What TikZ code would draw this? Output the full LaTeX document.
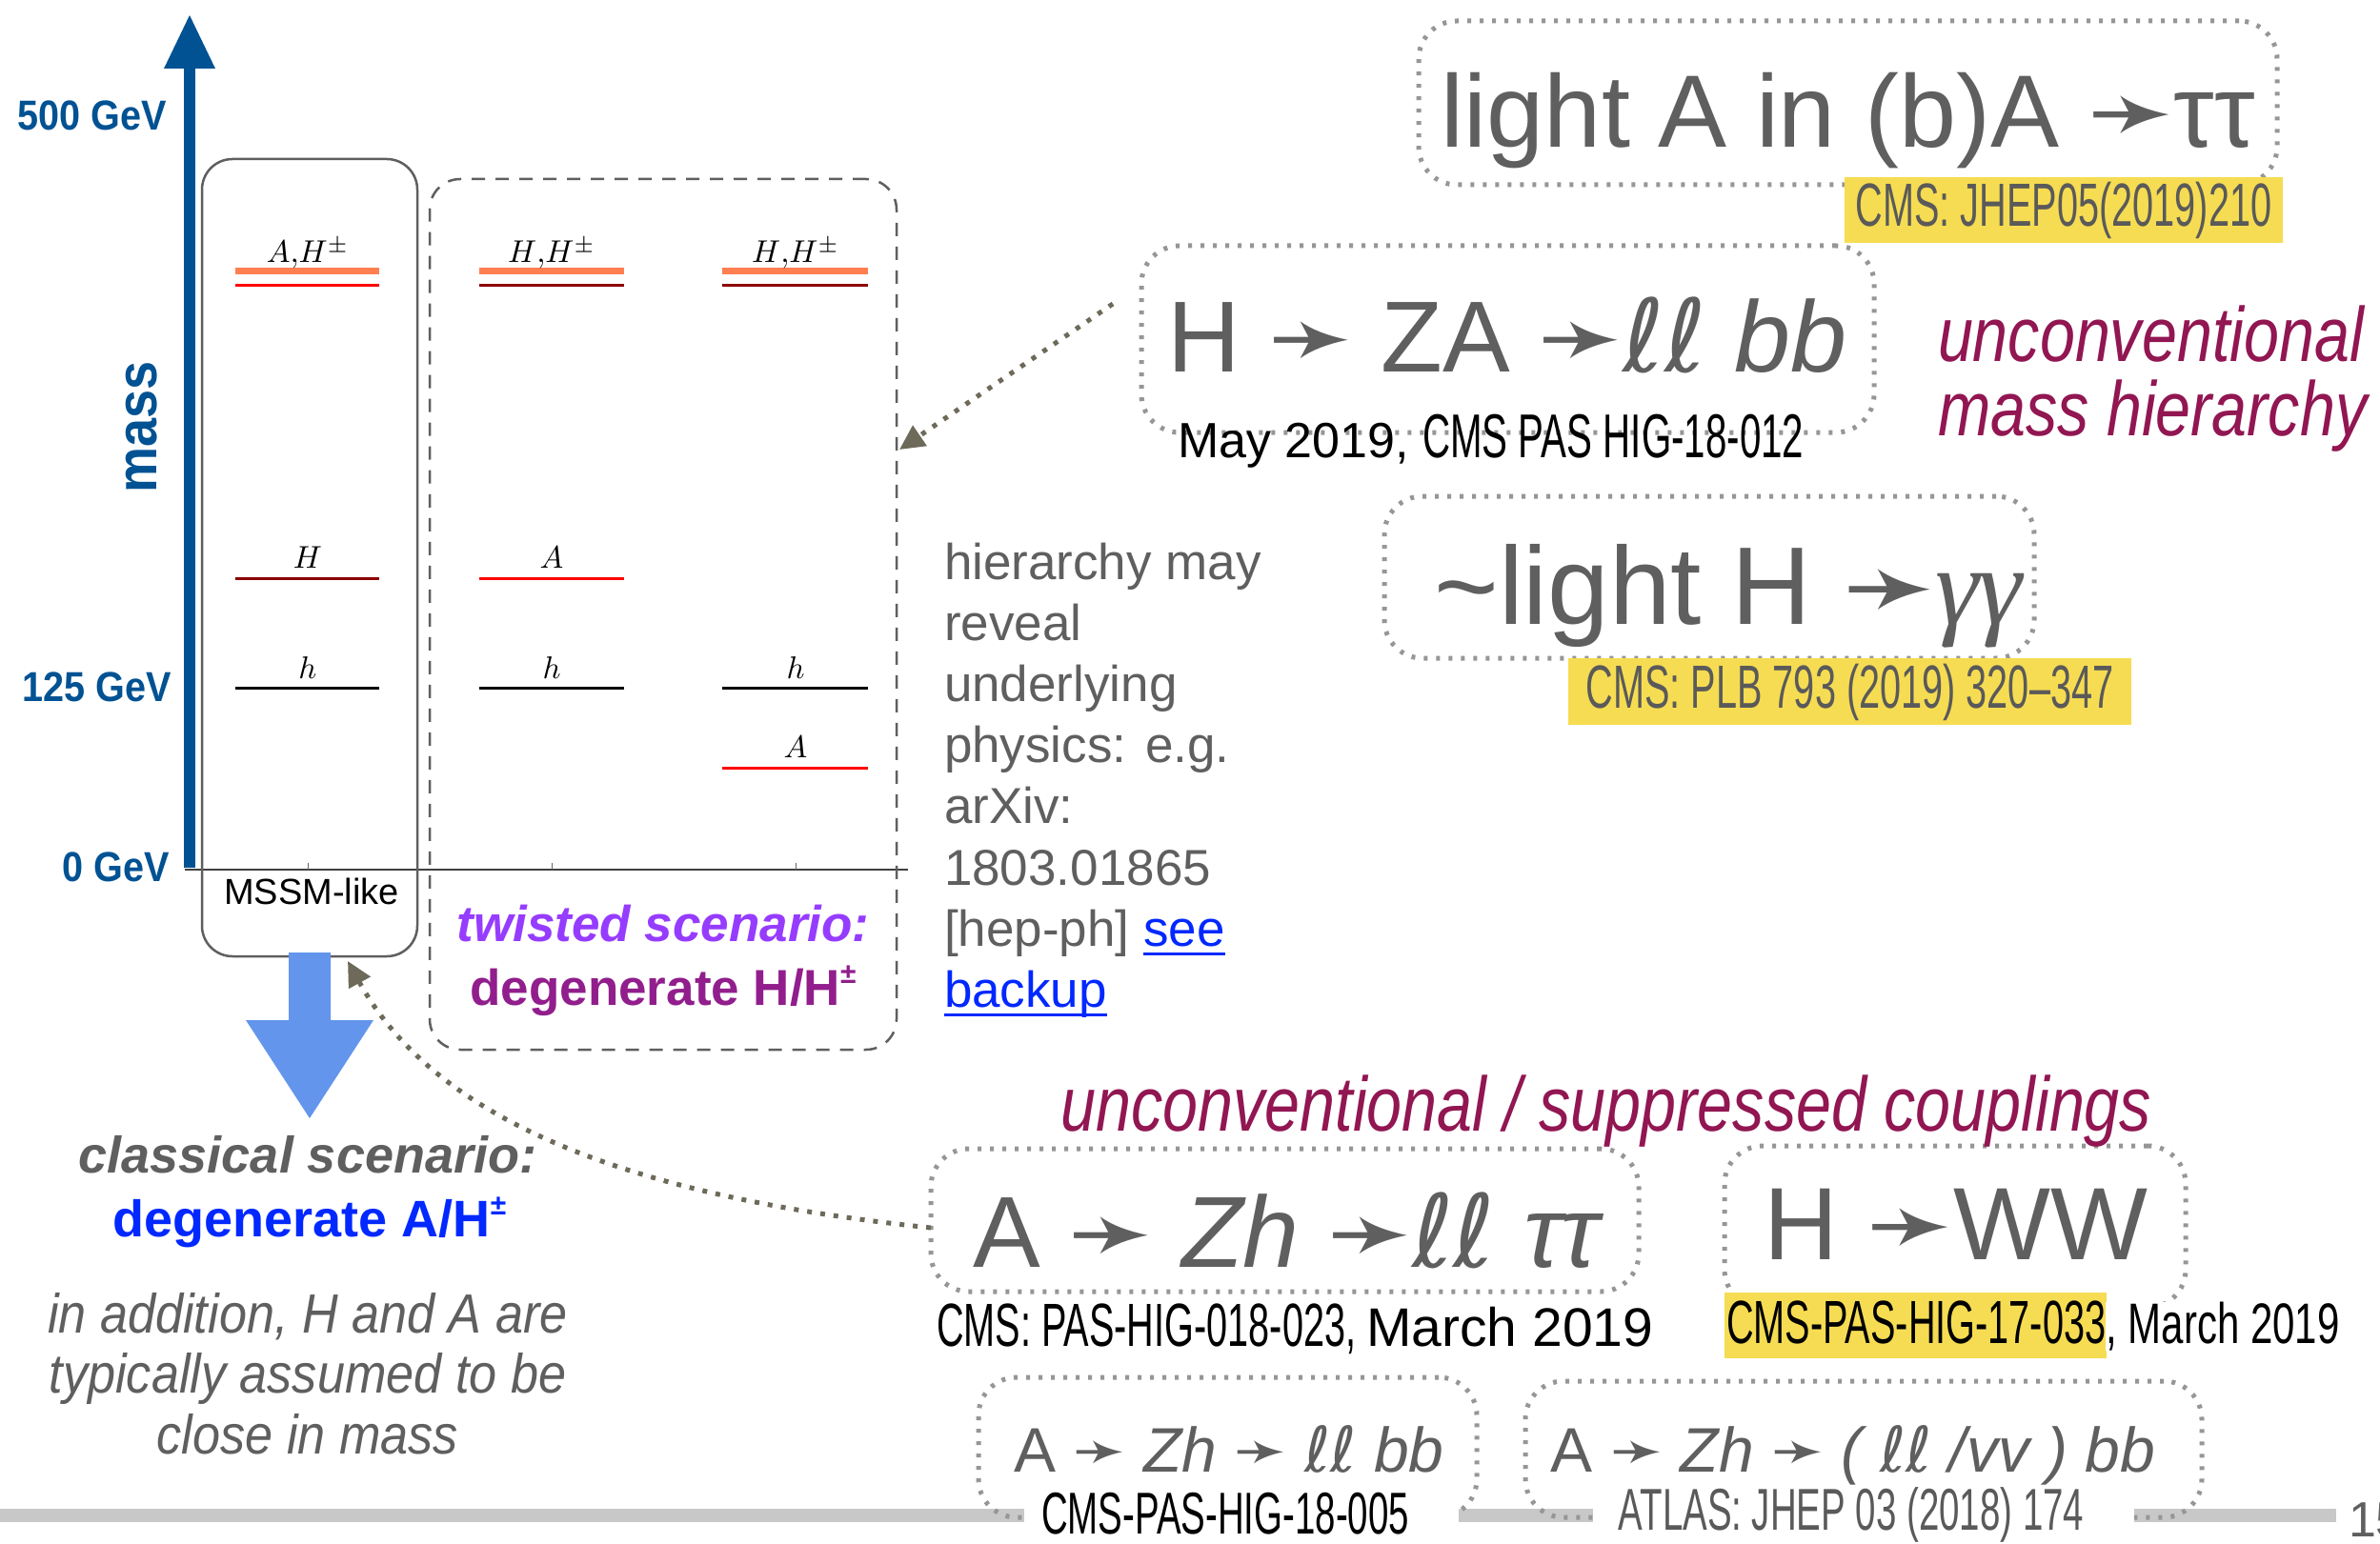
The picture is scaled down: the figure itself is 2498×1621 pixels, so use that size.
\documentclass[tikz,border=0pt]{standalone}
\usepackage{graphicx}
\usepackage{fontspec}
\setmainfont{Liberation Sans}
\newfontfamily\djv{DejaVu Sans}
\newfontfamily\serf{Liberation Serif}
\newfontfamily\condf[FakeStretch=0.62]{Liberation Sans}
\newfontfamily\condg[FakeStretch=0.70]{Liberation Sans}
\newfontfamily\itcf[FakeStretch=0.82]{Liberation Sans}
\newfontfamily\axf[FakeStretch=0.9]{Liberation Sans}
\usetikzlibrary{arrows.meta}
\newcommand\fsz[1]{\fontsize{#1}{#1}\selectfont}
\newcommand\arr{{\djv ➛}}
\newcommand\lv[1]{\scalebox{3.3}{$#1$}}
\definecolor{axisblue}{RGB}{0,82,147}
\definecolor{txtgrey}{RGB}{95,95,95}
\definecolor{labgrey}{RGB}{90,90,90}
\definecolor{dotgrey}{RGB}{150,150,150}
\definecolor{arrgrey}{RGB}{110,106,90}
\definecolor{boxgrey}{RGB}{95,95,95}
\definecolor{coral}{RGB}{255,127,80}
\definecolor{darkred}{RGB}{139,0,0}
\definecolor{maroon}{RGB}{145,22,82}
\definecolor{twistpurple}{RGB}{150,60,255}
\definecolor{degpurple}{RGB}{145,30,140}
\definecolor{linkblue}{RGB}{0,40,255}
\definecolor{yel}{RGB}{246,220,82}
\definecolor{bargrey}{RGB}{200,200,200}
\definecolor{downblue}{RGB}{100,149,237}
\begin{document}
\begin{tikzpicture}[x=1pt,y=-1pt,
  every node/.style={inner sep=0pt, outer sep=0pt},
  dotbox/.style={draw=dotgrey, line width=5pt, dash pattern=on 4pt off 9pt, rounded corners=40pt},
  dotarrow/.style={draw=arrgrey, line width=5pt, dash pattern=on 5pt off 9pt, -{Triangle[length=26pt,width=25pt,fill=arrgrey]}},
  dashbox/.style={draw=boxgrey, line width=2.5pt, dash pattern=on 14pt off 11pt, rounded corners=32pt},
  lvl/.style={anchor=base},
  axlab/.style={font=\axf\bfseries\fsz{44}, text=axisblue},
  bigtxt/.style={text=txtgrey, anchor=base},
  smalltxt/.style={font=\fsz{66}, text=txtgrey, anchor=base},
  cond/.style={font=\condf\fsz{64}},
  hier/.style={font=\fsz{53}, text=txtgrey, anchor=base west},
  uncon/.style={font=\itcf\itshape\fsz{81}, text=maroon}
]
\useasboundingbox (0,0) rectangle (2498,1621);
\fill[white] (0,0) rectangle (2498,1621);

% bottom bar
\fill[bargrey] (0,1584) rectangle (2452,1598);

% mass axis
\fill[axisblue] (193,911) rectangle (205,70);
\fill[axisblue] (172,72) -- (226,72) -- (199,16) -- cycle;
\draw[line width=2pt, color=black!75] (194,913) -- (953,913);
\foreach \tx in {323,579,835} \draw[line width=1pt, black!60] (\tx,913) -- (\tx,906);

\node[axlab, anchor=base east] (g500) at (175,137) {500 GeV};
\node[axlab, anchor=base east] (g125) at (180,736) {125 GeV};
\node[axlab, anchor=base east] (g0) at (178,925) {0 GeV};
\node[rotate=90, font=\axf\bfseries\fsz{60}, text=axisblue] (mass) at (149,448) {mass};

% scenario boxes
\node[draw=boxgrey, line width=2.5pt, rounded corners=32pt, minimum width=226pt, minimum height=837pt] (mssm) at (325,585.5) {};
\node[dashbox, minimum width=490pt, minimum height=914pt] (twist) at (696,645) {};

% level lines
\draw[coral, line width=7pt] (247,285) -- (398,285);
\draw[red, line width=3pt] (247,300) -- (398,300);
\draw[darkred, line width=3pt] (247,607) -- (398,607);
\draw[black, line width=3pt] (247,722) -- (398,722);
\draw[coral, line width=7pt] (503,285) -- (655,285);
\draw[darkred, line width=3pt] (503,300) -- (655,300);
\draw[red, line width=3pt] (503,607) -- (655,607);
\draw[black, line width=3pt] (503,722) -- (655,722);
\draw[coral, line width=7pt] (758,285) -- (911,285);
\draw[darkred, line width=3pt] (758,300) -- (911,300);
\draw[black, line width=3pt] (758,722) -- (911,722);
\draw[red, line width=3pt] (758,806) -- (911,806);

\node[lvl] (l1a) at (323,276) {\lv{A{,}H^{\pm}}};
\node[lvl] (l1b) at (323,596) {\lv{H}};
\node[lvl] (l1c) at (323,712) {\lv{h}};
\node[lvl] (l2a) at (579,276) {\lv{H{,}H^{\pm}}};
\node[lvl] (l2b) at (579,596) {\lv{A}};
\node[lvl] (l2c) at (579,712) {\lv{h}};
\node[lvl] (l3a) at (835,276) {\lv{H{,}H^{\pm}}};
\node[lvl] (l3c) at (835,712) {\lv{h}};
\node[lvl] (l3b) at (835,795) {\lv{A}};

\node[font=\fsz{38}, anchor=base] (mssmlbl) at (327,949) {MSSM-like};
\node[font=\bfseries\itshape\fsz{53}, text=twistpurple, anchor=base] (tw1) at (696,988) {twisted scenario:};
\node[font=\bfseries\fsz{53}, text=degpurple, anchor=base] (tw2) at (696,1055) {degenerate H/H\raisebox{.42em}{\fsz{30}±}};

% blue down arrow
\fill[downblue] (303,1000) -- (347,1000) -- (347,1071) -- (392,1071) -- (325,1174) -- (258,1071) -- (303,1071) -- cycle;

\node[font=\bfseries\itshape\fsz{54}, text=txtgrey, anchor=base] (cl1) at (323,1231) {classical scenario:};
\node[font=\bfseries\fsz{54}, text=linkblue, anchor=base] (cl2) at (325,1298) {degenerate A/H\raisebox{.42em}{\fsz{30}±}};
\node[font=\axf\itshape\fsz{58}, text=txtgrey, anchor=base] (ad1) at (323,1399) {in addition, H and A are};
\node[font=\axf\itshape\fsz{58}, text=txtgrey, anchor=base] (ad2) at (323,1462) {typically assumed to be};
\node[font=\axf\itshape\fsz{58}, text=txtgrey, anchor=base] (ad3) at (323,1526) {close in mass};

% hierarchy text
\node[hier] (h1) at (991,608) {hierarchy may};
\node[hier] (h2) at (991,672) {reveal};
\node[hier] (h3) at (991,736) {underlying};
\node[hier] (h4) at (991,800) {physics: e.g.};
\node[hier] (h5) at (991,864) {arXiv:};
\node[hier] (h6) at (991,929) {1803.01865};
\node[hier] (h7) at (991,993) {[hep-ph]};
\node[hier, text=linkblue, xshift=15pt] (see) at (h7.base east) {see};
\node[hier, text=linkblue] (backup) at (991,1057) {backup};
\draw[linkblue, line width=3pt] ([yshift=-8pt]see.base west) -- ([yshift=-8pt]see.base east);
\draw[linkblue, line width=3pt] ([yshift=-8pt]backup.base west) -- ([yshift=-8pt]backup.base east);

% dotted boxes
\node[dotbox, minimum width=901pt, minimum height=172pt] (B1) at (1939.5,108) {};
\node[dotbox, minimum width=769pt, minimum height=196pt] (B2) at (1582.5,356) {};
\node[dotbox, minimum width=682pt, minimum height=170pt] (B3) at (1794,606) {};
\node[dotbox, minimum width=743pt, minimum height=150pt] (B4) at (1348.5,1281) {};
\node[dotbox, minimum width=484pt, minimum height=170pt] (B5) at (2052,1288) {};
\node[dotbox, minimum width=523pt, minimum height=147pt] (B6) at (1288.5,1519.5) {};
\node[dotbox, minimum width=710pt, minimum height=143pt] (B7) at (1956,1521.5) {};

% dotted arrows
\coordinate (a1s) at (1168,319);
\coordinate (a1e) at (944,472);
\coordinate (a2e) at (365,1009);
\draw[dotarrow] (a1s) -- (a1e);
\draw[dotarrow] ([yshift=-8pt]B4.west) .. controls (720,1262) and (470,1200) .. (a2e);

% yellow highlights
\fill[yel] (1936,186) rectangle (2396,255);
\fill[yel] (1646,691) rectangle (2237,761);
\fill[yel] (1810,1357) rectangle (2211,1426);

% box texts
\node[bigtxt, font=\fsz{108}] (t1) at (1940,155) {light A in (b)A \arr ττ};
\node[cond, text=labgrey] (y1) at (2166,221) {CMS: JHEP05(2019)210};

\node[bigtxt, font=\fsz{106}] (t2) at (1582,390) {H \arr\ ZA \arr{\djv\itshape ℓℓ} {\itshape bb}};
\node[font=\fsz{52}, anchor=base west] (may) at (1236,480) {May 2019, {\condf\fsz{65}CMS PAS HIG-18-012}};

\node[uncon, anchor=base west] (u1) at (2034,379) {unconventional};
\node[uncon, anchor=base west] (u2) at (2034,457) {mass hierarchy};

\node[bigtxt, font=\fsz{116}] (t3) at (1814,655) {\textasciitilde light H \arr{\serf\itshape γγ}};
\node[cond, text=labgrey] (y2) at (1941.5,727) {CMS: PLB 793 (2019) 320–347};

\node[uncon, anchor=base] (u3) at (1686,1187) {unconventional / suppressed couplings};

\node[bigtxt, font=\fsz{106}] (t4) at (1350,1330) {A \arr\ {\itshape Zh} \arr{\djv\itshape ℓℓ} {\itshape ττ}};
\node[anchor=base west, font=\fsz{57}] (c23) at (983,1413) {{\condf\fsz{64}CMS: PAS-HIG-018-023, }March 2019};

\node[bigtxt, font=\fsz{108}] (t5) at (2053,1322) {H \arr WW};
\node[cond, anchor=base west] (c17) at (1812,1410) {CMS-PAS-HIG-17-033};
\node[anchor=base west, fill=white, font=\condg\fsz{60}] (mar) at (c17.base east) {, March 2019};

\node[smalltxt] (t6) at (1290,1545) {A \arr\ {\itshape Zh} \arr\ {\djv\itshape ℓℓ} {\itshape bb}};
\node[smalltxt] (t7) at (1945,1545) {A \arr\ {\itshape Zh} \arr\ {\itshape (} {\djv\itshape ℓℓ} {\itshape /vv ) bb}};

\fill[white] (1075,1566) rectangle (1531,1621);
\fill[white] (1672,1566) rectangle (2240,1621);
\node[cond, anchor=base, font=\condf\fsz{62}] (c05) at (1286,1610) {CMS-PAS-HIG-18-005};
\node[cond, anchor=base, text=labgrey, font=\condf\fsz{62}] (atl) at (1943,1606) {ATLAS: JHEP 03 (2018) 174};

\node[font=\fsz{52}, text=txtgrey, anchor=base west] (pg) at (2465,1613) {15};
\end{tikzpicture}
\end{document}
